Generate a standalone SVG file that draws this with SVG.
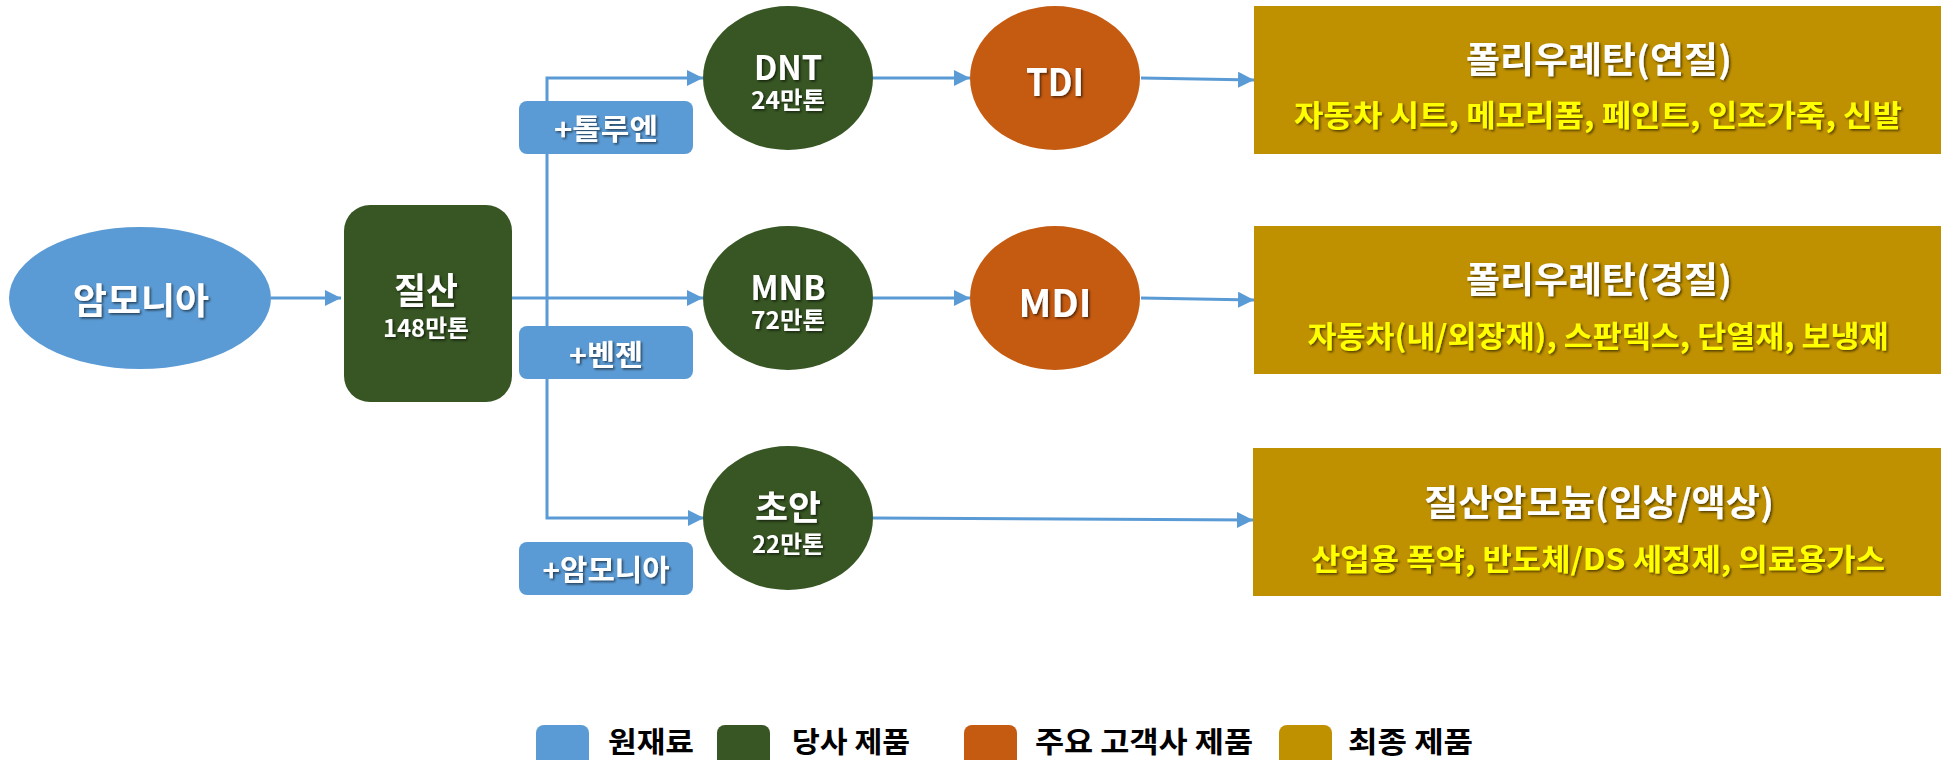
<svg xmlns="http://www.w3.org/2000/svg" width="1941" height="760" viewBox="0 0 1941 760">
<defs>
<style>
.t{font-family:"Noto Sans CJK KR","Noto Sans",sans-serif;font-weight:bold;text-anchor:middle;dominant-baseline:central}
.w{fill:#ffffff;filter:url(#sh)}
.y{fill:#ffff00;filter:url(#sh)}
.lg{font-family:"Noto Sans CJK KR","Noto Sans",sans-serif;font-weight:bold;fill:#000;dominant-baseline:central;font-size:29px}
.blue{fill:#5b9bd5}
.green{fill:#375623}
.orange{fill:#c55a11}
.gold{fill:#bf9000}
.c{stroke:#5b9bd5;stroke-width:3;fill:none}
</style>
<filter id="sh" x="-10%" y="-20%" width="120%" height="150%">
<feDropShadow dx="1.5" dy="1.5" stdDeviation="0.8" flood-color="#000" flood-opacity="0.6"/>
</filter>
<marker id="ah" markerUnits="userSpaceOnUse" markerWidth="16" markerHeight="16" refX="16" refY="8" orient="auto">
<path d="M0,0 L16,8 L0,16 Z" fill="#5b9bd5"/>
</marker>
</defs>
<g id="connectors">
<path class="c" d="M271,298 L341,298" marker-end="url(#ah)"/>
<path class="c" d="M512,298 L703,298" marker-end="url(#ah)"/>
<path class="c" d="M547,298 L547,78 L703,78" marker-end="url(#ah)"/>
<path class="c" d="M547,298 L547,518 L704,518" marker-end="url(#ah)"/>
<path class="c" d="M873,78 L970,78" marker-end="url(#ah)"/>
<path class="c" d="M873,298 L970,298" marker-end="url(#ah)"/>
<path class="c" d="M1141,78 L1254,80" marker-end="url(#ah)"/>
<path class="c" d="M1141,298 L1254,300" marker-end="url(#ah)"/>
<path class="c" d="M873,518 L1253,520" marker-end="url(#ah)"/>
</g>
<g id="ammonia">
<ellipse class="blue" cx="140" cy="298" rx="131" ry="71"/>
<text class="t w" x="141" y="298" font-size="36" textLength="136" lengthAdjust="spacingAndGlyphs">암모니아</text>
</g>
<g id="nitric">
<rect class="green" x="344" y="205" width="168" height="197" rx="26"/>
<text class="t w" x="426" y="288" font-size="36" textLength="64" lengthAdjust="spacingAndGlyphs">질산</text>
<text class="t w" x="426" y="326" font-size="24" textLength="86" lengthAdjust="spacingAndGlyphs">148만톤</text>
</g>
<g id="toluene">
<rect class="blue" x="519" y="101" width="174" height="53" rx="8"/>
<text class="t w" x="606" y="127" font-size="29" textLength="104" lengthAdjust="spacingAndGlyphs">+톨루엔</text>
</g>
<g id="benzene">
<rect class="blue" x="519" y="326" width="174" height="53" rx="8"/>
<text class="t w" x="606" y="353" font-size="29" textLength="74" lengthAdjust="spacingAndGlyphs">+벤젠</text>
</g>
<g id="ammonia2">
<rect class="blue" x="519" y="542" width="174" height="53" rx="8"/>
<text class="t w" x="606" y="568" font-size="29" textLength="127" lengthAdjust="spacingAndGlyphs">+암모니아</text>
</g>
<g id="dnt">
<ellipse class="green" cx="788" cy="78" rx="85" ry="72"/>
<text class="t w" x="788" y="65" font-size="34" textLength="68" lengthAdjust="spacingAndGlyphs">DNT</text>
<text class="t w" x="788" y="98" font-size="24" textLength="74" lengthAdjust="spacingAndGlyphs">24만톤</text>
</g>
<g id="mnb">
<ellipse class="green" cx="788" cy="298" rx="85" ry="72"/>
<text class="t w" x="788" y="285" font-size="34" textLength="75" lengthAdjust="spacingAndGlyphs">MNB</text>
<text class="t w" x="788" y="318" font-size="24" textLength="74" lengthAdjust="spacingAndGlyphs">72만톤</text>
</g>
<g id="choan">
<ellipse class="green" cx="788" cy="518" rx="85" ry="72"/>
<text class="t w" x="788" y="505" font-size="34" textLength="66" lengthAdjust="spacingAndGlyphs">초안</text>
<text class="t w" x="788" y="542" font-size="24" textLength="72" lengthAdjust="spacingAndGlyphs">22만톤</text>
</g>
<g id="tdi">
<ellipse class="orange" cx="1055" cy="78" rx="85" ry="72"/>
<text class="t w" x="1055" y="79" font-size="38" textLength="58" lengthAdjust="spacingAndGlyphs">TDI</text>
</g>
<g id="mdi">
<ellipse class="orange" cx="1055" cy="298" rx="85" ry="72"/>
<text class="t w" x="1055" y="300" font-size="38" textLength="73" lengthAdjust="spacingAndGlyphs">MDI</text>
</g>
<g id="pu-soft">
<rect class="gold" x="1254" y="6" width="687" height="148"/>
<text class="t w" x="1599" y="57" font-size="36" textLength="266" lengthAdjust="spacingAndGlyphs">폴리우레탄(연질)</text>
<text class="t y" x="1598" y="113" font-size="30" textLength="608" lengthAdjust="spacingAndGlyphs">자동차 시트, 메모리폼, 페인트, 인조가죽, 신발</text>
</g>
<g id="pu-hard">
<rect class="gold" x="1254" y="226" width="687" height="148"/>
<text class="t w" x="1599" y="277" font-size="36" textLength="266" lengthAdjust="spacingAndGlyphs">폴리우레탄(경질)</text>
<text class="t y" x="1598" y="334" font-size="30" textLength="581" lengthAdjust="spacingAndGlyphs">자동차(내/외장재), 스판덱스, 단열재, 보냉재</text>
</g>
<g id="an">
<rect class="gold" x="1253" y="448" width="688" height="148"/>
<text class="t w" x="1599" y="500" font-size="36" textLength="350" lengthAdjust="spacingAndGlyphs">질산암모늄(입상/액상)</text>
<text class="t y" x="1598" y="557" font-size="30" textLength="574" lengthAdjust="spacingAndGlyphs">산업용 폭약, 반도체/DS 세정제, 의료용가스</text>
</g>
<g id="legend">
<rect class="blue" x="536" y="725" width="53" height="53" rx="8"/>
<text class="lg" x="608" y="740" textLength="86" lengthAdjust="spacingAndGlyphs">원재료</text>
<rect class="green" x="717" y="725" width="53" height="53" rx="8"/>
<text class="lg" x="792" y="740" textLength="118" lengthAdjust="spacingAndGlyphs">당사 제품</text>
<rect class="orange" x="964" y="725" width="53" height="53" rx="8"/>
<text class="lg" x="1035" y="740" textLength="218" lengthAdjust="spacingAndGlyphs">주요 고객사 제품</text>
<rect class="gold" x="1279" y="725" width="53" height="53" rx="8"/>
<text class="lg" x="1348" y="740" textLength="125" lengthAdjust="spacingAndGlyphs">최종 제품</text>
</g>
</svg>
